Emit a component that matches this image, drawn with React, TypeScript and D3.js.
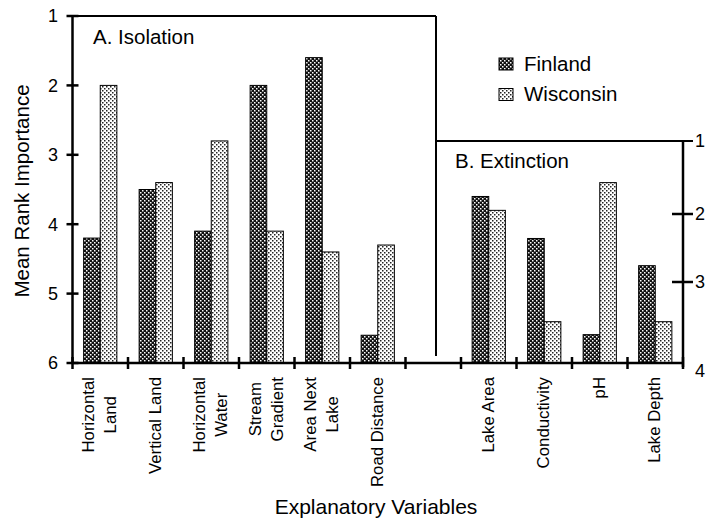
import React, { useRef, useEffect } from 'react';
import * as d3 from 'd3';

const isoCategories = ['Horizontal\nLand', 'Vertical Land', 'Horizontal\nWater', 'Stream\nGradient', 'Area Next\nLake', 'Road Distance'];
const isoFinland = [4.2, 3.5, 4.1, 2.0, 1.6, 5.6];
const isoWisconsin = [2.0, 3.4, 2.8, 4.1, 4.4, 4.3];

const extCategories = ['Lake Area', 'Conductivity', 'pH', 'Lake Depth'];
const extFinland = [1.76, 2.36, 3.65, 2.76];
const extWisconsin = [1.95, 3.49, 1.57, 3.49];

const seriesNames = ['Finland', 'Wisconsin'];
const leftTicks = [1, 2, 3, 4, 5, 6];
const rightTicks = [1, 2, 3, 4];

const FONT = '"Liberation Sans", Arial, Helvetica, sans-serif';

export default function App() {
    const svgRef = useRef(null);

    useEffect(() => {
        if (!svgRef.current) return;
        const svg = d3.select(svgRef.current);
        svg.selectAll('*').remove();

        const left = 72.5, right = 683, bottom = 363, top = 16, boxBTop = 141, boxARight = 436;

        // patterns for the two series
        const defs = svg.append('defs');
        const pF = defs.append('pattern').attr('id', 'patF').attr('patternUnits', 'userSpaceOnUse')
            .attr('width', 4).attr('height', 4);
        pF.append('rect').attr('width', 4).attr('height', 4).attr('fill', '#111');
        pF.append('rect').attr('x', 0).attr('y', 0).attr('width', 1.5).attr('height', 1.5).attr('fill', '#fff');
        pF.append('rect').attr('x', 2).attr('y', 2).attr('width', 1.5).attr('height', 1.5).attr('fill', '#fff');
        const pW = defs.append('pattern').attr('id', 'patW').attr('patternUnits', 'userSpaceOnUse')
            .attr('width', 4).attr('height', 4);
        pW.append('rect').attr('width', 4).attr('height', 4).attr('fill', '#fff');
        pW.append('rect').attr('x', 0).attr('y', 0).attr('width', 1.5).attr('height', 1.5).attr('fill', '#222');
        pW.append('rect').attr('x', 2).attr('y', 2).attr('width', 1.5).attr('height', 1.5).attr('fill', '#222');
        const fills = { Finland: 'url(#patF)', Wisconsin: 'url(#patW)' };

        // one band per category plus an empty gap between the panels
        const allCats = [...isoCategories, '__gap__', ...extCategories];
        const x = d3.scaleBand().domain(allCats).range([left, right]).paddingInner(0).paddingOuter(0);
        const xs = d3.scaleBand().domain(seriesNames).range([0, x.bandwidth()]).paddingInner(0).paddingOuter(0.67);

        const yA = d3.scaleLinear().domain([1, 6]).range([top, bottom]);
        const yB = d3.scaleLinear().domain([1, 2, 3, 4]).range([boxBTop, 214, 282, bottom]);

        const g = svg.append('g');

        const drawBars = (cats, fin, wis, y) => {
            cats.forEach((c, i) => {
                [['Finland', fin[i]], ['Wisconsin', wis[i]]].forEach(([s, v]) => {
                    g.append('rect')
                        .attr('x', x(c) + xs(s))
                        .attr('y', y(v))
                        .attr('width', xs.bandwidth())
                        .attr('height', bottom - y(v))
                        .attr('fill', fills[s])
                        .attr('stroke', '#000')
                        .attr('stroke-width', 1);
                });
            });
        };
        drawBars(isoCategories, isoFinland, isoWisconsin, yA);
        drawBars(extCategories, extFinland, extWisconsin, yB);

        // frames
        g.append('line').attr('x1', left).attr('x2', boxARight).attr('y1', top).attr('y2', top)
            .attr('stroke', '#000').attr('stroke-width', 2);
        g.append('line').attr('x1', boxARight).attr('x2', boxARight).attr('y1', top).attr('y2', 356)
            .attr('stroke', '#000').attr('stroke-width', 2);
        g.append('line').attr('x1', boxARight).attr('x2', 693).attr('y1', boxBTop).attr('y2', boxBTop)
            .attr('stroke', '#000').attr('stroke-width', 2);

        // left axis
        g.append('line').attr('x1', left).attr('x2', left).attr('y1', top).attr('y2', bottom)
            .attr('stroke', '#000').attr('stroke-width', 2.5);
        leftTicks.forEach(t => {
            g.append('line').attr('x1', left - 6).attr('x2', left + 6).attr('y1', yA(t)).attr('y2', yA(t))
                .attr('stroke', '#000').attr('stroke-width', 2.5);
            g.append('text').attr('x', 58).attr('y', yA(t)).attr('dy', '0.36em')
                .attr('text-anchor', 'end').attr('font-size', 18).text(t);
        });

        // right axis
        g.append('line').attr('x1', right).attr('x2', right).attr('y1', boxBTop).attr('y2', 367)
            .attr('stroke', '#000').attr('stroke-width', 2.5);
        rightTicks.forEach(t => {
            if (t > 1 && t < 4) {
                g.append('line').attr('x1', right - 11).attr('x2', right + 10).attr('y1', yB(t)).attr('y2', yB(t))
                    .attr('stroke', '#000').attr('stroke-width', 2.5);
            }
            g.append('text').attr('x', 695).attr('y', t === 4 ? yB(t) + 8 : yB(t)).attr('dy', '0.36em')
                .attr('text-anchor', 'start').attr('font-size', 18).text(t);
        });

        // bottom axis
        g.append('line').attr('x1', left).attr('x2', right).attr('y1', bottom).attr('y2', bottom)
            .attr('stroke', '#000').attr('stroke-width', 2.5);
        const bounds = [...allCats.map(c => x(c)), right];
        bounds.forEach(b => {
            g.append('line').attr('x1', b).attr('x2', b).attr('y1', bottom - 6).attr('y2', bottom + 6)
                .attr('stroke', '#000').attr('stroke-width', 2.5);
        });

        // category labels, rotated
        const labelTop = 377;
        [...isoCategories, ...extCategories].forEach(c => {
            const lines = c.split('\n');
            const cx = x(c) + x.bandwidth() / 2;
            const texts = lines.map(l => g.append('text').attr('font-size', 16.8).attr('text-anchor', 'middle').text(l));
            const maxLen = d3.max(texts, t => t.node().getComputedTextLength());
            texts.forEach((t, i) => {
                const off = lines.length === 1 ? 0 : (i === 0 ? -11 : 11);
                t.attr('transform', `translate(${cx + off},${labelTop + maxLen / 2}) rotate(-90)`)
                    .attr('dy', '0.3em');
            });
        });

        // panel titles
        g.append('text').attr('x', 93).attr('y', 44).attr('font-size', 20.5).text('A. Isolation');
        g.append('text').attr('x', 455).attr('y', 168).attr('font-size', 20.5).text('B. Extinction');

        // legend
        seriesNames.forEach((s, i) => {
            const ly = 58 + i * 30.5;
            g.append('rect').attr('x', 499).attr('y', ly).attr('width', 14).attr('height', 12)
                .attr('fill', fills[s]).attr('stroke', '#000').attr('stroke-width', 1);
            g.append('text').attr('x', 524).attr('y', ly + 12.5).attr('font-size', 20.5).text(s);
        });

        // axis titles
        g.append('text').attr('x', 376).attr('y', 514).attr('text-anchor', 'middle')
            .attr('font-size', 21).text('Explanatory Variables');
        g.append('text').attr('transform', 'translate(29,191) rotate(-90)').attr('text-anchor', 'middle')
            .attr('font-size', 20.5).text('Mean Rank Importance');
    }, []);

    return (
        <svg ref={svgRef} width={710} height={518}
            style={{ position: 'absolute', left: 0, top: 0, background: '#fff', fontFamily: FONT }} />
    );
}
